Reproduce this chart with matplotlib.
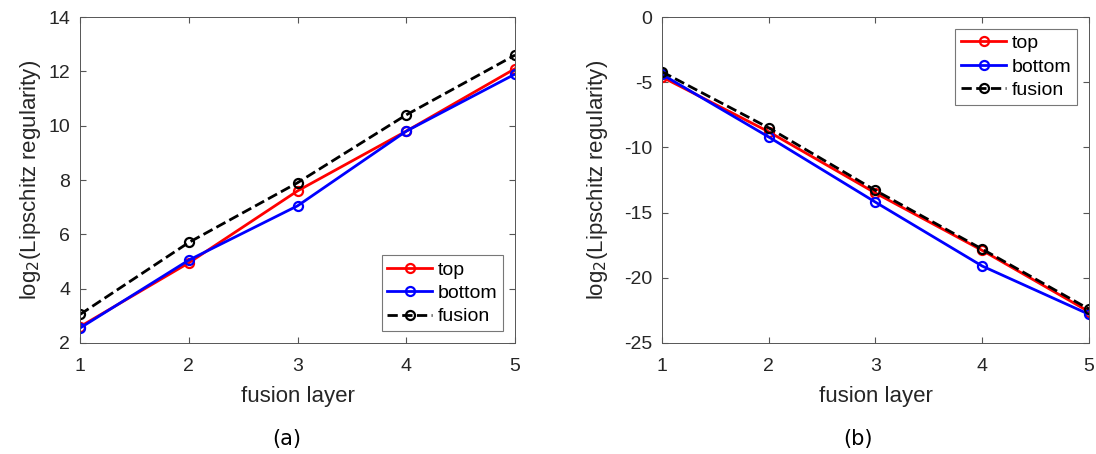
import numpy as np
import matplotlib.pyplot as plt

layers = [1, 2, 3, 4, 5]

# (a)
top_a = [2.6, 4.95, 7.6, 9.8, 12.1]
bottom_a = [2.55, 5.05, 7.05, 9.8, 11.9]
fusion_a = [3.05, 5.7, 7.9, 10.4, 12.6]

# (b)
top_b = [-4.6, -8.8, -13.5, -17.9, -22.6]
bottom_b = [-4.4, -9.2, -14.2, -19.1, -22.8]
fusion_b = [-4.2, -8.5, -13.3, -17.8, -22.4]

plt.rcParams['font.family'] = ['Liberation Sans', 'DejaVu Sans']
plt.rcParams['axes.unicode_minus'] = False

fig = plt.figure(figsize=(10.96, 4.54), dpi=100)
ax1 = fig.add_axes([0.073, 0.2445, 0.397, 0.718])
ax2 = fig.add_axes([0.604, 0.2445, 0.3896, 0.718])


def draw(ax, top, bottom, fusion, ylim, yticks, loc, ylabelpad):
    ax.plot(layers, top, '-o', color='red', lw=2, ms=6.5, mfc='none', mew=1.6, label='top')
    ax.plot(layers, bottom, '-o', color='blue', lw=2, ms=6.5, mfc='none', mew=1.6, label='bottom')
    ax.plot(layers, fusion, '--o', color='black', lw=2, ms=6.5, mfc='none', mew=1.6, label='fusion')
    ax.set_xlim(1, 5)
    ax.set_ylim(*ylim)
    ax.set_xticks(layers)
    ax.set_yticks(yticks)
    ax.tick_params(direction='in', top=True, right=True, labelsize=14, length=4,
                   color='#555555', labelcolor='#262626')
    ax.tick_params(axis='x', pad=11)
    ax.tick_params(axis='y', pad=7)
    for s in ax.spines.values():
        s.set_color('#555555')
        s.set_linewidth(0.7)
    ax.set_xlabel('fusion layer', fontsize=16, color='#262626', labelpad=8)
    ax.set_ylabel(r'log$_2$(Lipschitz regularity)', fontsize=16, color='#262626',
                  labelpad=ylabelpad)
    leg = ax.legend(loc=loc, fontsize=14, fancybox=False, edgecolor='#555555',
                    handlelength=2.3, handletextpad=0.3, borderpad=0.3,
                    labelspacing=0.3, borderaxespad=0.6)
    leg.get_frame().set_linewidth(0.8)


draw(ax1, top_a, bottom_a, fusion_a, (2, 14), np.arange(2, 15, 2), 'lower right', 4)
draw(ax2, top_b, bottom_b, fusion_b, (-25, 0), np.arange(-25, 1, 5), 'upper right', 10)

fig.text(0.262, 0.02, '(a)', fontsize=15, ha='center', family='DejaVu Sans')
fig.text(0.783, 0.02, '(b)', fontsize=15, ha='center', family='DejaVu Sans')

fig.savefig('out.png', dpi=100)
